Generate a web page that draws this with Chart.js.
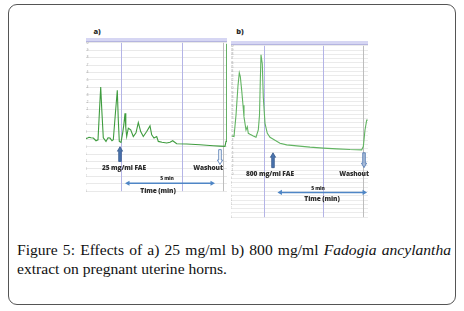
<!DOCTYPE html>
<html>
<head>
<meta charset="utf-8">
<script src="https://cdn.jsdelivr.net/npm/chart.js@4.4.1/dist/chart.umd.min.js"></script>
<style>
  html, body { margin:0; padding:0; background:#fff; }
  body { width:464px; height:311px; position:relative; overflow:hidden; }
  #frame { position:absolute; left:8px; top:4px; width:448px; height:301px; box-sizing:border-box;
           border:1.5px solid #555; border-radius:9px; }
  .hdr { position:absolute; background:#d6d6f3; border-bottom:1px solid #b5b5e0; }
  canvas { position:absolute; }
  .lbl { position:absolute; font-family:"Open Sans", Lato, "Liberation Sans", sans-serif; font-weight:800; color:#2e2e2e;
         white-space:nowrap; transform:translate(-50%,-50%); line-height:1; letter-spacing:-0.1px; }
  #caption { position:absolute; left:17px; top:240px; width:434px; font-family:"Liberation Serif", "DejaVu Serif", serif;
             font-size:15.6px; line-height:19px; color:#111; }
  #caption .l1 { text-align:justify; text-align-last:justify; white-space:nowrap; }
</style>
</head>
<body>
<div id="frame"></div>

<div class="hdr" style="left:86px; top:38px; width:141px; height:3px;"></div>
<div class="hdr" style="left:231px; top:41px; width:137px; height:3px;"></div>
<canvas id="chartA" width="141" height="150" style="left:86px; top:42px; width:141px; height:150px;"></canvas>
<canvas id="chartB" width="137" height="173" style="left:231px; top:45px; width:137px; height:173px;"></canvas>

<div class="lbl" style="left:97px; top:32px; font-size:7.5px;">a)</div>
<div class="lbl" style="left:240px; top:32px; font-size:7.5px;">b)</div>

<div class="lbl" style="left:124px; top:168px; font-size:6.6px;">25 mg/ml FAE</div>
<div class="lbl" style="left:208px; top:168px; font-size:6.6px;">Washout</div>
<div class="lbl" style="left:167px; top:178px; font-size:5px;">5 min</div>
<div class="lbl" style="left:158px; top:191px; font-size:6.6px;">Time (min)</div>

<div class="lbl" style="left:270px; top:174px; font-size:6.6px;">800 mg/ml FAE</div>
<div class="lbl" style="left:354px; top:174px; font-size:6.6px;">Washout</div>
<div class="lbl" style="left:318px; top:188px; font-size:5px;">5 min</div>
<div class="lbl" style="left:322px; top:199px; font-size:6.6px;">Time (min)</div>

<div id="caption">
  <div class="l1">Figure 5: Effects of a) 25 mg/ml b) 800 mg/ml <i>Fadogia ancylantha</i></div>
  <div>extract on pregnant uterine horns.</div>
</div>

<script>
// ---- Data (time in minutes, tension in recorder units) ----
const timeA = [0, 0.167, 0.278, 0.406, 0.556, 0.667, 0.75, 0.817, 0.878, 0.961, 1.111, 1.222, 1.333, 1.444, 1.517,
  1.639, 1.739, 1.794, 1.85, 1.944, 2.039, 2.1, 2.167, 2.211, 2.261, 2.35, 2.483, 2.628, 2.778, 2.906, 3.039,
  3.183, 3.372, 3.556, 3.65, 3.778, 3.928, 4.017, 4.222, 4.483, 4.667, 4.817, 5.039, 5.594, 6.333, 7.072,
  7.444, 7.722, 7.778, 7.82];
const tensionA = [7.07, 7.27, 7.2, 7.16, 6.8, 6.93, 10.93, 14.04, 10.93, 7.2, 6.71, 7.2, 7.16, 6.8, 6.93,
  10.67, 13.6, 9.6, 6.71, 6.57, 7.87, 8.93, 10.49, 8.53, 7.37, 8.49, 8.27, 7.37, 7.87, 9.24, 8.04,
  7.37, 8.04, 8.8, 7.6, 7.16, 7.37, 6.71, 6.6, 6.49, 6.6, 6.8, 6.4, 6.36, 6.27, 6.13,
  6.07, 6.04, 6.71, 19.87];

const timeB = [0.039, 0.167, 0.278, 0.389, 0.461, 0.517, 0.594, 0.667, 0.722, 0.833, 0.906, 0.961, 1.056, 1.239,
  1.389, 1.517, 1.583, 1.628, 1.667, 1.739, 1.794, 1.889, 2.017, 2.167, 2.35, 2.722, 3.094, 3.65, 4.389,
  5.128, 5.872, 6.611, 7.261, 7.35, 7.444, 7.539, 7.594];
const tensionB = [18.96, 18.8, 23.82, 30.75, 33.69, 32.83, 29.6, 26.13, 23.42, 20.35, 21.11, 19.58, 19.35, 18.96,
  18.66, 20.35, 23.82, 31.91, 37.92, 35.77, 28.05, 21.9, 19.58, 18.66, 18.2, 17.27, 16.88, 16.65, 16.35,
  16.12, 15.95, 15.79, 15.72, 16.49, 20.35, 22.66, 22.66];

// event markers (minutes): drug addition, time mark, washout
const markersA = [1.944, 5.35, 7.628];
const markersB = [1.833, 5.128, 7.317];

// arrows: [time, tail value, head value]
const drugArrowA = [1.889, 4.0, 6.0];
const washArrowA = [7.444, 5.6, 3.6];
const spanArrowA = [2.167, 7.167, 1.07];   // [start, end, level]
const drugArrowB = [2.333, 11.56, 15.03];
const washArrowB = [7.39, 15.03, 11.56];
const spanArrowB = [2.58, 7.56, 5.78];

// y tick labels
const ticksA = [20,19,18,17,16,15,14,13,12,11,10,9,8,7,6,5,4,3,2,1,0];
const ticksB = Array.from({length:41}, (_, i) => 40 - i);

function toPoints(xs, ys) { return xs.map((x, i) => ({x: x, y: ys[i]})); }

function blockArrow(ctx, x, y0, y1, shaftW, headW, headH, fill, stroke) {
  const dir = y1 < y0 ? -1 : 1;
  const yb = y1 - dir * headH;
  ctx.beginPath();
  ctx.moveTo(x - shaftW/2, y0);
  ctx.lineTo(x - shaftW/2, yb);
  ctx.lineTo(x - headW/2, yb);
  ctx.lineTo(x, y1);
  ctx.lineTo(x + headW/2, yb);
  ctx.lineTo(x + shaftW/2, yb);
  ctx.lineTo(x + shaftW/2, y0);
  ctx.closePath();
  ctx.fillStyle = fill; ctx.fill();
  ctx.lineWidth = 0.8; ctx.strokeStyle = stroke; ctx.stroke();
}

function spanArrow(ctx, x0, x1, y, color) {
  ctx.strokeStyle = color; ctx.fillStyle = color; ctx.lineWidth = 1.4;
  ctx.beginPath(); ctx.moveTo(x0 + 3, y); ctx.lineTo(x1 - 3, y); ctx.stroke();
  [[x0, 1], [x1, -1]].forEach(([x, d]) => {
    ctx.beginPath(); ctx.moveTo(x, y); ctx.lineTo(x + d*4.5, y - 2.6); ctx.lineTo(x + d*4.5, y + 2.6); ctx.closePath(); ctx.fill();
  });
}

const markerPlugin = {
  id: 'markers',
  beforeDatasetsDraw(chart, args, opts) {
    const {ctx, chartArea, scales} = chart;
    ctx.save();
    opts.times.forEach((t, i) => {
      const x = Math.round(scales.x.getPixelForValue(t)) + 0.5;
      ctx.strokeStyle = i < 2 ? '#b4b4e6' : '#bdbdbd';
      ctx.lineWidth = 1;
      ctx.beginPath(); ctx.moveTo(x, chartArea.top); ctx.lineTo(x, chartArea.bottom); ctx.stroke();
    });
    ctx.restore();
  },
  afterDatasetsDraw(chart, args, opts) {
    const {ctx, scales} = chart;
    const sx = v => scales.x.getPixelForValue(v), sy = v => scales.y.getPixelForValue(v);
    ctx.save();
    const d = opts.drug, w = opts.wash, s = opts.span;
    blockArrow(ctx, sx(d[0]), sy(d[1]), sy(d[2]), 2.6, 5.2, 4.5, '#4a74ae', '#37598a');
    blockArrow(ctx, sx(w[0]), sy(w[1]), sy(w[2]), 2.6, 5.2, 4.5, opts.washFill, '#4a74ae');
    spanArrow(ctx, sx(s[0]), sx(s[1]), sy(s[2]), '#4f86c6');
    ctx.restore();
  }
};

function makeChart(id, xs, ys, xmax, ymax, ticks, markers, drug, wash, span, color, washFill, gridColor) {
  new Chart(document.getElementById(id), {
    type: 'line',
    data: { datasets: [{ data: toPoints(xs, ys), borderColor: color, borderWidth: 1.1, pointRadius: 0, tension: 0, fill: false }] },
    options: {
      responsive: false, animation: false, parsing: true,
      layout: { padding: 0 },
      plugins: { legend: { display: false }, tooltip: { enabled: false },
        markers: { times: markers, drug: drug, wash: wash, span: span, washFill: washFill } },
      scales: {
        x: { type: 'linear', min: 0, max: xmax, display: false },
        y: { type: 'linear', min: 0, max: ymax,
             afterFit: (a) => { a.width = 0; },
             border: { display: false },
             grid: { color: gridColor, lineWidth: 0.8, drawTicks: false },
             ticks: { stepSize: 1, mirror: true, padding: -1, color: '#a0a0a0', font: { size: 3 },
                      autoSkip: false, callback: (v) => ticks.includes(v) ? String(v) : '' } }
      }
    },
    plugins: [markerPlugin]
  });
}

makeChart('chartA', timeA, tensionA, 141/18, 20, ticksA, markersA, drugArrowA, washArrowA, spanArrowA, '#3f9c3f', '#ffffff', '#e3e3e3');
makeChart('chartB', timeB, tensionB, 137/18, 40, ticksB, markersB, drugArrowB, washArrowB, spanArrowB, '#62b462', '#a9bcd8', '#e6e6e6');
</script>
</body>
</html>
